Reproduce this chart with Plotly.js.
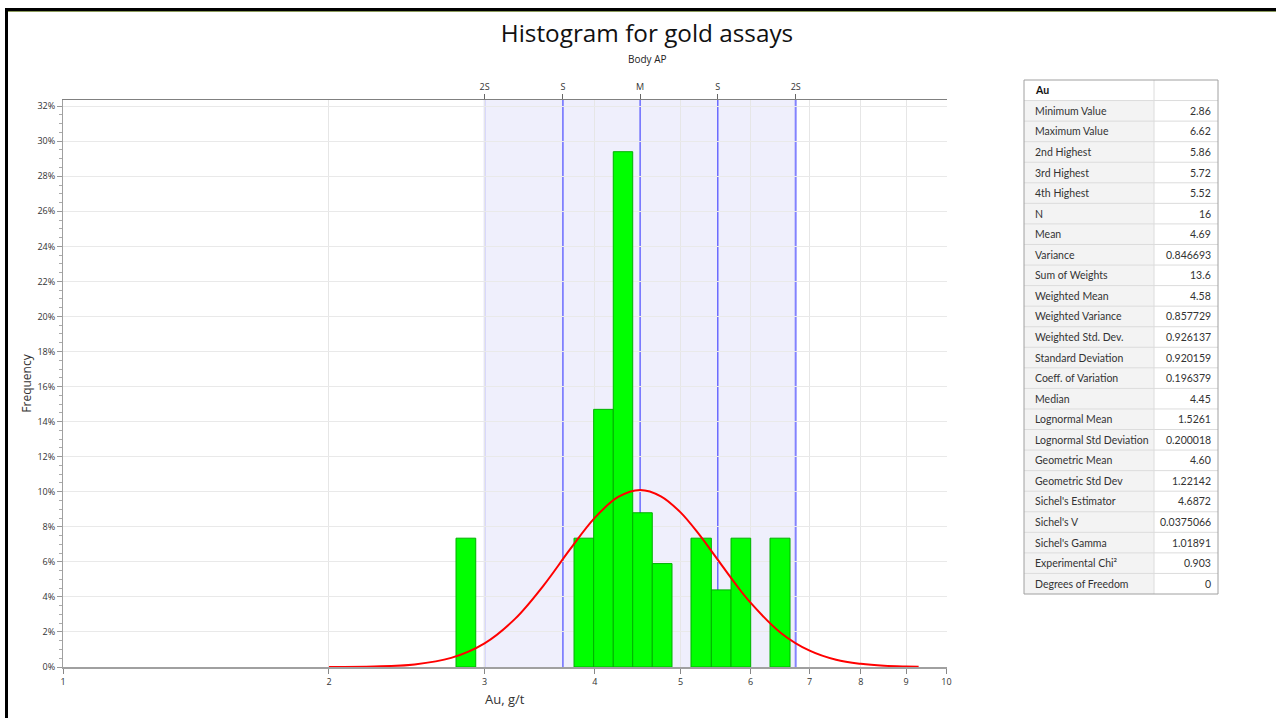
<!DOCTYPE html>
<html>
<head>
<meta charset="utf-8">
<script src="https://cdn.plot.ly/plotly-3.0.1.min.js"></script>
<style>
  html, body { margin: 0; padding: 0; background: #fff; }
  #wrap { position: relative; width: 1276px; height: 718px; overflow: hidden; }
  #chart { position: absolute; left: 0; top: 0; width: 1276px; height: 718px; }
  #frame { position: absolute; left: 5px; top: 8px; width: 1300px; height: 800px;
           border-left: 3px solid #000; border-top: 3px solid #000; pointer-events: none; }
  #frameInner { position: absolute; left: 8px; top: 11px; width: 1300px; height: 1px;
                background: #8a9a5b; pointer-events: none; }
</style>
</head>
<body>
<div id="wrap">
  <div id="chart"></div>
  <div id="frame"></div>
  <div id="frameInner"></div>
</div>
<script>
// Histogram bins (Au, g/t) and their frequencies in percent
const binLo = [2.785, 3.788, 3.987, 4.196, 4.414, 4.645, 5.138, 5.418, 5.703, 6.313];
const binHi = [2.932, 3.987, 4.196, 4.414, 4.645, 4.890, 5.418, 5.703, 6.003, 6.651];
const binFreq = [7.35, 7.35, 14.7, 29.4, 8.8, 5.9, 7.35, 4.4, 7.35, 7.35];

// Fitted lognormal curve (frequency %)
const curveX = [2.0, 2.25, 2.5, 2.75, 3.0, 3.25, 3.5, 3.75, 4.0, 4.25, 4.5, 4.75,
                5.0, 5.25, 5.5, 5.75, 6.0, 6.5, 7.0, 7.5, 8.0, 8.5, 9.0, 9.3];
const curveY = [0.003, 0.028, 0.147, 0.52, 1.35, 2.76, 4.66, 6.72, 8.52, 9.70, 10.10, 9.74,
                8.82, 7.55, 6.17, 4.84, 3.67, 1.93, 0.93, 0.41, 0.18, 0.07, 0.03, 0.02];

// Mean and standard-deviation markers
const refValues = [3.00, 3.68, 4.50, 5.51, 6.75];
const refLabels = ['2S', 'S', 'M', 'S', '2S'];

// Axis ticks
const xTickVals = [1, 2, 3, 4, 5, 6, 7, 8, 9, 10];
const xTickText = ['1', '2', '3', '4', '5', '6', '7', '8', '9', '10'];

// Statistics table
const tableTitle = 'Au';
const statNames = ['Minimum Value', 'Maximum Value', '2nd Highest', '3rd Highest', '4th Highest',
  'N', 'Mean', 'Variance', 'Sum of Weights', 'Weighted Mean', 'Weighted Variance',
  'Weighted Std. Dev.', 'Standard Deviation', 'Coeff. of Variation', 'Median',
  'Lognormal Mean', 'Lognormal Std Deviation', 'Geometric Mean', 'Geometric Std Dev',
  "Sichel's Estimator", "Sichel's V", "Sichel's Gamma", 'Experimental Chi²', 'Degrees of Freedom'];
const statValues = ['2.86', '6.62', '5.86', '5.72', '5.52', '16', '4.69', '0.846693', '13.6',
  '4.58', '0.857729', '0.926137', '0.920159', '0.196379', '4.45', '1.5261', '0.200018',
  '4.60', '1.22142', '4.6872', '0.0375066', '1.01891', '0.903', '0'];

const FONT = "'Segoe UI', 'Open Sans', sans-serif";
const TABLE_FONT = "'Segoe UI', Lato, sans-serif";
const Y_MAX = 32.35;

// Figure geometry (pixels)
const W = 1276, H = 718;
const M = { l: 63, r: 58, t: 80, b: 51 };
const paperW = W - M.l - M.r, paperH = H - M.t - M.b;
const px = x => (x - M.l) / paperW;        // pixel x -> paper x
const py = y => (H - M.b - y) / paperH;    // pixel y -> paper y
const PLOT_RIGHT = 946.5, PLOT_TOP = 100;

// Stats panel box
const TBL = { left: 1024, split: 1154, right: 1218, top: 80, bottom: 594 };
const rowCount = statNames.length + 1;
const rowH = (TBL.bottom - TBL.top) / rowCount;

const barCenters = binLo.map((lo, i) => (lo + binHi[i]) / 2);
const barWidths = binLo.map((lo, i) => binHi[i] - lo);

const bars = {
  type: 'bar',
  x: barCenters,
  y: binFreq,
  width: barWidths,
  xaxis: 'x', yaxis: 'y',
  marker: { color: '#00ff00', line: { color: '#00b000', width: 1 } },
  hoverinfo: 'skip',
  showlegend: false
};

const curve = {
  type: 'scatter',
  mode: 'lines',
  x: curveX,
  y: curveY,
  xaxis: 'x2', yaxis: 'y',
  line: { color: '#ff0000', width: 2, shape: 'spline', smoothing: 1 },
  hoverinfo: 'skip',
  showlegend: false
};

// Shaded +/-2S band and the marker lines
const shapes = [
  {
    type: 'rect', layer: 'below',
    xref: 'x', yref: 'y domain',
    x0: refValues[0], x1: refValues[refValues.length - 1], y0: 0, y1: 1,
    fillcolor: '#efeffc', line: { width: 0 }
  }
].concat(refValues.map((v, i) => ({
  type: 'line', layer: 'below',
  xref: 'x', yref: 'y domain',
  x0: v, x1: v, y0: 0, y1: 1,
  line: { color: (i === refValues.length - 1) ? 'rgba(70,70,255,0.65)' : '#4a4aff',
          width: (i === refValues.length - 1) ? 2 : 1.2 }
})));

// Stats panel: name column background, row rules, column rule, outer border
const rowY = i => TBL.top + i * rowH;
shapes.push({
  type: 'rect', layer: 'above', xref: 'paper', yref: 'paper',
  x0: px(TBL.left), x1: px(TBL.split), y0: py(rowY(1)), y1: py(TBL.bottom),
  fillcolor: '#f3f3f3', line: { width: 0 }
});
for (let i = 1; i < rowCount; i++) {
  shapes.push({
    type: 'line', layer: 'above', xref: 'paper', yref: 'paper',
    x0: px(TBL.left), x1: px(TBL.right), y0: py(rowY(i)), y1: py(rowY(i)),
    line: { color: '#dcdcdc', width: 1 }
  });
}
shapes.push({
  type: 'line', layer: 'above', xref: 'paper', yref: 'paper',
  x0: px(TBL.split), x1: px(TBL.split), y0: py(TBL.top), y1: py(TBL.bottom),
  line: { color: '#dcdcdc', width: 1 }
});
shapes.push({
  type: 'rect', layer: 'above', xref: 'paper', yref: 'paper',
  x0: px(TBL.left), x1: px(TBL.right), y0: py(TBL.bottom), y1: py(TBL.top),
  line: { color: '#a0a0a0', width: 1 }
});

// Stats panel text
const annotations = [
  {
    text: 'Body AP', showarrow: false,
    xref: 'paper', yref: 'paper',
    x: px(647), xanchor: 'center',
    y: py(59), yanchor: 'middle',
    font: { family: FONT, size: 10, color: '#222' }
  },
  {
    text: '<b>' + tableTitle + '</b>', showarrow: false,
    xref: 'paper', yref: 'paper',
    x: px(TBL.left + 9), xanchor: 'left',
    y: py(rowY(0.5)), yanchor: 'middle',
    font: { family: TABLE_FONT, size: 10.5, color: '#111' }
  }
];
statNames.forEach((name, i) => {
  const yc = py(rowY(i + 1.5));
  annotations.push({
    text: name, showarrow: false, xref: 'paper', yref: 'paper',
    x: px(TBL.left + 9), xanchor: 'left', y: yc, yanchor: 'middle',
    font: { family: TABLE_FONT, size: 10.5, color: '#333' }
  });
  annotations.push({
    text: statValues[i], showarrow: false, xref: 'paper', yref: 'paper',
    x: px(TBL.right - 5), xanchor: 'right', y: yc, yanchor: 'middle',
    font: { family: TABLE_FONT, size: 10.5, color: '#333' }
  });
});

const layout = {
  width: W, height: H,
  margin: M,
  paper_bgcolor: '#ffffff',
  plot_bgcolor: 'rgba(0,0,0,0)',
  font: { family: FONT, color: '#333' },
  bargap: 0,
  title: {
    text: 'Histogram for gold assays',
    xref: 'container', yref: 'container',
    x: 647 / W, xanchor: 'center',
    y: 0.954, yanchor: 'middle',
    font: { family: FONT, size: 24.3, color: '#111' }
  },
  annotations: annotations,
  xaxis: {
    domain: [0, px(PLOT_RIGHT)],
    type: 'log',
    range: [0, 1],
    tickmode: 'array',
    tickvals: xTickVals,
    ticktext: xTickText,
    ticks: 'outside', ticklen: 5, tickcolor: '#888',
    tickfont: { size: 9, color: '#333' },
    showline: true, linecolor: '#a0a0a0', linewidth: 2,
    showgrid: true, gridcolor: '#e6e6e6',
    zeroline: false,
    title: { text: 'Au, g/t', font: { size: 13, color: '#333' }, standoff: 8 }
  },
  xaxis2: {
    overlaying: 'x', anchor: 'y', side: 'top',
    type: 'log', range: [0, 1],
    tickmode: 'array',
    tickvals: refValues,
    ticktext: refLabels,
    ticks: 'outside', ticklen: 5, tickcolor: '#666',
    tickfont: { size: 9, color: '#333' },
    showline: true, linecolor: '#808080', linewidth: 1,
    showgrid: false, zeroline: false
  },
  yaxis: {
    domain: [0, py(PLOT_TOP)],
    range: [0, Y_MAX],
    tickmode: 'linear', tick0: 0, dtick: 2,
    ticksuffix: '%',
    ticks: 'outside', ticklen: 5, tickcolor: '#999',
    minor: { dtick: 0.5, ticks: 'outside', ticklen: 3, tickcolor: '#aaa', showgrid: false },
    tickfont: { size: 9, color: '#333' },
    showline: true, linecolor: '#a0a0a0', linewidth: 1,
    showgrid: true, gridcolor: '#e9e9e9',
    zeroline: false,
    title: { text: 'Frequency', font: { size: 12, color: '#333' }, standoff: 3 }
  },
  shapes: shapes
};

Plotly.newPlot('chart', [bars, curve], layout, { displayModeBar: false, staticPlot: true });
</script>
</body>
</html>
